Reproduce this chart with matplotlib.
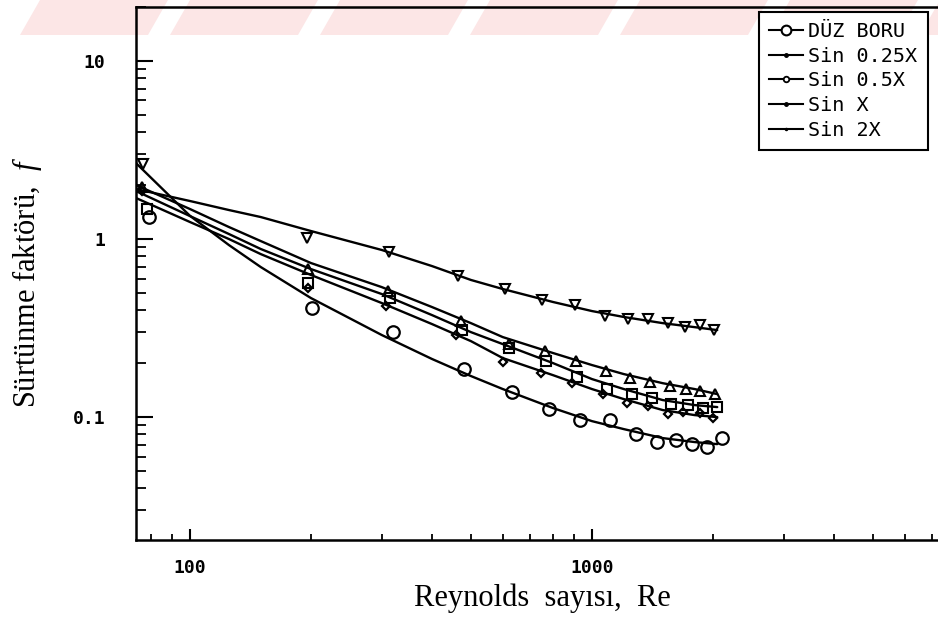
import numpy as np
import matplotlib
matplotlib.use("Agg")
import matplotlib.pyplot as plt
from matplotlib.lines import Line2D
from matplotlib.patches import Polygon
from matplotlib.ticker import LogLocator, NullFormatter

# ---------------- data ----------------
re_duz = [79, 201, 320, 480, 632, 782, 934, 1109, 1287, 1451, 1618, 1773, 1932, 2106]
f_duz = [1.33, 0.41, 0.300, 0.186, 0.138, 0.111, 0.0962, 0.0962, 0.0802, 0.0724, 0.0743, 0.0705, 0.0679, 0.0762]

re_025x = [76, 197, 307, 459, 601, 747, 892, 1065, 1222, 1378, 1546, 1684, 1856, 2000]
f_025x = [1.86, 0.53, 0.420, 0.289, 0.204, 0.177, 0.155, 0.1346, 0.1199, 0.1153, 0.1039, 0.107, 0.1053, 0.0987]

re_05x = [78, 197, 314, 475, 622, 768, 918, 1090, 1257, 1410, 1572, 1733, 1888, 2047]
f_05x = [1.47, 0.566, 0.466, 0.308, 0.244, 0.206, 0.168, 0.1437, 0.1346, 0.1279, 0.1183, 0.1168, 0.1124, 0.1138]

re_x = [76, 197, 311, 472, 622, 764, 913, 1083, 1243, 1394, 1563, 1713, 1856, 2023]
f_x = [1.96, 0.678, 0.510, 0.346, 0.257, 0.235, 0.206, 0.181, 0.1656, 0.1573, 0.1493, 0.1437, 0.140, 0.1346]

re_2x = [76.4, 195, 313, 464, 608, 751, 907, 1077, 1229, 1378, 1546, 1703, 1856, 2012]
f_2x = [2.64, 1.01, 0.845, 0.620, 0.524, 0.454, 0.426, 0.369, 0.355, 0.355, 0.337, 0.320, 0.329, 0.308]

# fitted curves
re_fit = [73.4, 100, 125, 150, 200, 300, 400, 500, 600, 800, 1000, 1200, 1500, 1800, 2050]
fit_duz = [2.67, 1.35, 0.925, 0.696, 0.466, 0.289, 0.212, 0.170, 0.1437, 0.1124, 0.0949, 0.0856, 0.0762, 0.0724, 0.0705]
fit_025x = [1.70, 1.246, 1.0, 0.823, 0.628, 0.437, 0.333, 0.267, 0.2145, 0.172, 0.1437, 0.1262, 0.1095, 0.1026, 0.100]
fit_05x = [1.861, 1.346, 1.067, 0.879, 0.678, 0.491, 0.374, 0.300, 0.257, 0.201, 0.1635, 0.1437, 0.1246, 0.1168, 0.1138]
fit_x = [2.01, 1.474, 1.168, 0.974, 0.733, 0.537, 0.415, 0.337, 0.2814, 0.229, 0.196, 0.1744, 0.155, 0.1437, 0.1346]
fit_2x = [1.909, 1.635, 1.455, 1.329, 1.109, 0.868, 0.705, 0.589, 0.524, 0.443, 0.394, 0.365, 0.337, 0.320, 0.308]

legend_labels = ["DÜZ BORU", "Sin 0.25X", "Sin 0.5X", "Sin X", "Sin 2X"]
x_ticks = [100, 1000]
x_ticklabels = ["100", "1000"]
y_ticks = [0.1, 1, 10]
y_ticklabels = ["0.1", "1", "10"]

# ---------------- figure ----------------
plt.rcParams["mathtext.fontset"] = "custom"
plt.rcParams["mathtext.it"] = "Liberation Serif:italic"
plt.rcParams["mathtext.rm"] = "Liberation Serif"

W, H = 938, 635
fig = plt.figure(figsize=(W / 100, H / 100), dpi=100)

# faint pink diagonal stripes of the scanned page (background decoration)
for k in range(7):
    x0 = 20 + 150 * k
    pts = [(x0, 35), (x0 + 128, 35), (x0 + 148, 0), (x0 + 20, 0)]
    fig.patches.append(Polygon([(px / W, 1 - py / H) for px, py in pts], closed=True,
                               transform=fig.transFigure, facecolor="#fce6e6",
                               edgecolor="none", zorder=-5))

ax = fig.add_axes([136 / W, 1 - 540 / H, (W - 136) / W, (540 - 7) / H])
ax.patch.set_alpha(0)
ax.set_zorder(1)
ax.set_xscale("log")
ax.set_yscale("log")
ax.set_xlim(73.4, 7260)
ax.set_ylim(0.0204, 20.1)

lw_curve = 1.7
for fv in (fit_duz, fit_025x, fit_05x, fit_x, fit_2x):
    ax.plot(re_fit, fv, color="black", lw=lw_curve, solid_capstyle="round",
            solid_joinstyle="round", zorder=2)

mk = dict(ls="none", mec="black", mfc="none", zorder=3)
ax.plot(re_duz, f_duz, marker="o", ms=9, mew=1.6, **mk)
ax.plot(re_025x, f_025x, marker="D", ms=4.5, mew=1.6, **mk)
ax.plot(re_05x, f_05x, marker="s", ms=7.5, mew=1.5, **mk)
ax.plot(re_x, f_x, marker="^", ms=6.5, mew=1.5, **mk)
ax.plot(re_2x, f_2x, marker="v", ms=6.5, mew=1.5, **mk)

# axes styling
for side in ("left", "bottom", "top"):
    ax.spines[side].set_linewidth(1.8)
ax.spines["right"].set_visible(False)

tick_font = dict(family="DejaVu Sans Mono", weight="bold", size=13)
ax.set_xticks(x_ticks)
ax.set_xticklabels(x_ticklabels, fontdict=tick_font)
ax.set_yticks(y_ticks)
ax.set_yticklabels(y_ticklabels, fontdict=tick_font)
ax.xaxis.set_minor_locator(LogLocator(base=10, subs=np.arange(2, 10)))
ax.yaxis.set_minor_locator(LogLocator(base=10, subs=np.arange(2, 10)))
ax.xaxis.set_minor_formatter(NullFormatter())
ax.yaxis.set_minor_formatter(NullFormatter())
ax.tick_params(axis="x", which="major", direction="in", length=8, width=1.5, pad=14, top=False)
ax.tick_params(axis="x", which="minor", direction="in", length=4.5, width=1.3, top=False)
ax.tick_params(axis="y", which="major", direction="in", length=12, width=1.5, pad=22, right=False)
ax.tick_params(axis="y", which="minor", direction="in", length=7, width=1.3, right=False)

# axis labels
fig.text(542 / W, 1 - 598 / H, "Reynolds  sayısı,  Re", ha="center", va="center",
         family="Liberation Serif", size=22)
fig.text(27 / W, 1 - 282 / H, "Sürtünme faktörü,  $f$", ha="center", va="center",
         rotation=90, family="Liberation Serif", size=22)

# legend (glyphs as drawn in the reference)
handles = [
    Line2D([], [], color="black", lw=1.5, marker="o", ms=7, mfc="white", mec="black", mew=1.5),
    Line2D([], [], color="black", lw=1.5, marker=".", ms=5, mfc="black", mec="black"),
    Line2D([], [], color="black", lw=1.5, marker="o", ms=4, mfc="white", mec="black", mew=1.3),
    Line2D([], [], color="black", lw=1.5, marker=".", ms=5, mfc="black", mec="black"),
    Line2D([], [], color="black", lw=1.5, marker=".", ms=3, mfc="black", mec="black"),
]
leg = ax.legend(handles, legend_labels, loc="upper left",
                bbox_to_anchor=(759 / W, 1 - 12 / H), bbox_transform=fig.transFigure,
                prop=dict(family="DejaVu Sans Mono", size=14.5), frameon=True, fancybox=False,
                edgecolor="black", framealpha=1, borderaxespad=0, borderpad=0.5,
                handlelength=1.7, handletextpad=0.25, labelspacing=0.28)
leg.get_frame().set_linewidth(1.5)
leg.set_zorder(10)

fig.savefig("out.png", dpi=100, facecolor="white")
